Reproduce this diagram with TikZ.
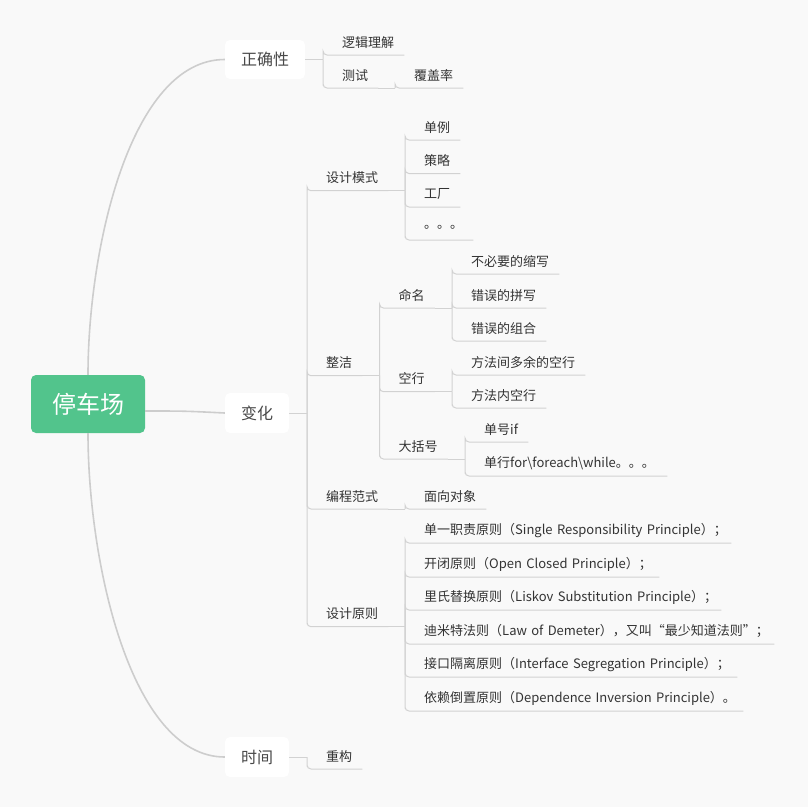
\documentclass[tikz,border=0pt]{standalone}
\usepackage{fontspec}
\setmainfont{Noto Sans CJK SC}
\usetikzlibrary{calc}
\definecolor{bg}{RGB}{249,249,249}
\definecolor{lnc}{RGB}{210,210,210}
\definecolor{crv}{RGB}{205,205,205}
\definecolor{rootg}{RGB}{82,196,140}
\definecolor{txt}{RGB}{51,51,51}
\definecolor{mtxt}{RGB}{72,72,72}
\newcommand{\itm}[5]{\node[item, text width=#4pt] (#1) at (#2,#3) {\hspace*{19pt}#5};}
\newcommand{\edg}[2]{\draw[sub] (#1) |- (#2.south west) -- (#2.south east);}
\begin{document}
\begin{tikzpicture}[x=1pt,y=-1pt,
  item/.style={anchor=south west, inner sep=0pt, minimum height=25pt, align=left,
    font=\fontsize{13}{15}\selectfont, text=txt},
  mainbox/.style={fill=white, rounded corners=5pt, inner sep=0pt,
    font=\fontsize{16}{19}\selectfont, text=mtxt},
  rootbox/.style={fill=rootg, rounded corners=5pt, inner sep=0pt,
    font=\fontsize{24}{28}\selectfont, text=white},
  sub/.style={draw=lnc, line width=1pt, rounded corners=4pt},
  crvline/.style={draw=crv, line width=1.6pt}]

\fill[bg] (0,0) rectangle (808,807);
\useasboundingbox (0,0) rectangle (808,807);

% root and main nodes
\node[rootbox, minimum width=114pt, minimum height=58pt] (root) at (88,404) {停车场};
\node[mainbox, minimum width=80pt, minimum height=39pt] (zqx) at (265,59.5) {正确性};
\node[mainbox, minimum width=64pt, minimum height=40pt] (bh) at (257,413) {变化};
\node[mainbox, minimum width=64pt, minimum height=40pt] (sj) at (257,757) {时间};

\draw[crvline] (root.north) .. controls (88,250) and (130,59.5) .. (zqx.west);
\draw[crvline] (root.south) .. controls (88,560) and (130,757) .. (sj.west);
\draw[crvline] ($(root.east)+(0,7)$) .. controls (185,411) .. (bh.west);

% junction points
\coordinate (jzqx) at (323,59.5);
\coordinate (jbh) at (307,413);
\coordinate (jsj) at (307,757);
\coordinate (jcs) at (395,88);
\coordinate (jsjms) at (405,190.7);
\coordinate (jzj) at (379.5,375.7);
\coordinate (jmm) at (452,308);
\coordinate (jkh) at (452,391.7);
\coordinate (jdkh) at (465,459);
\coordinate (jbcfs) at (405,509);
\coordinate (jsjyz) at (405,626.7);

% 正确性
\itm{ljlj}{323}{55}{81}{逻辑理解}
\itm{cs}{323}{88}{55}{测试}
\itm{fgl}{395}{88}{68}{覆盖率}
\draw[sub] (zqx.east) -- (jzqx);
\edg{jzqx}{ljlj}
\edg{jzqx}{cs}
\draw[sub] (cs.south east) -- (jcs);
\edg{jcs}{fgl}

% 变化
\itm{sjms}{307}{190.7}{81}{设计模式}
\itm{zj}{307}{375.7}{55}{整洁}
\itm{bcfs}{307}{509}{81}{编程范式}
\itm{sjyz}{307}{626.7}{81}{设计原则}
\draw[sub] (bh.east) -- (jbh);
\edg{jbh}{sjms}
\edg{jbh}{zj}
\edg{jbh}{bcfs}
\edg{jbh}{sjyz}

% 设计模式
\itm{dl}{405}{140}{55}{单例}
\itm{cl}{405}{173.5}{55}{策略}
\itm{gc}{405}{207}{55}{工厂}
\itm{dd}{405}{240}{68}{。。。}
\draw[sub] (sjms.south east) -- (jsjms);
\edg{jsjms}{dl}
\edg{jsjms}{cl}
\edg{jsjms}{gc}
\edg{jsjms}{dd}

% 整洁
\itm{mm}{379.5}{308}{55}{命名}
\itm{kh}{379.5}{391.7}{55}{空行}
\itm{dkh}{379.5}{459}{68}{大括号}
\draw[sub] (zj.south east) -- (jzj);
\edg{jzj}{mm}
\edg{jzj}{kh}
\edg{jzj}{dkh}

\itm{na}{452}{274}{107}{不必要的缩写}
\itm{nb}{452}{308}{94}{错误的拼写}
\itm{nc}{452}{341}{94}{错误的组合}
\draw[sub] (mm.south east) -- (jmm);
\edg{jmm}{na}
\edg{jmm}{nb}
\edg{jmm}{nc}

\itm{ka}{452}{375}{133}{方法间多余的空行}
\itm{kb}{452}{408}{94}{方法内空行}
\draw[sub] (kh.south east) -- (jkh);
\edg{jkh}{ka}
\edg{jkh}{kb}

\itm{da}{465}{442}{63}{单号if}
\itm{db}{465}{476}{202}{单行for\textbackslash foreach\textbackslash while。。。}
\draw[sub] (dkh.south east) -- (jdkh);
\edg{jdkh}{da}
\edg{jdkh}{db}

% 编程范式
\itm{mx}{405}{509}{81}{面向对象}
\draw[sub] (bcfs.south east) -- (jbcfs);
\edg{jbcfs}{mx}

% 设计原则
\itm{pa}{405}{543}{326}{单一职责原则（Single Responsibility Principle）；}
\itm{pb}{405}{577}{254}{开闭原则（Open Closed Principle）；}
\itm{pc}{405}{610}{316}{里氏替换原则（Liskov Substitution Principle）；}
\itm{pd}{405}{644}{369}{迪米特法则（Law of Demeter），又叫“最少知道法则”；}
\itm{pe}{405}{677}{332}{接口隔离原则（Interface Segregation Principle）；}
\itm{pf}{405}{711}{338}{依赖倒置原则（Dependence Inversion Principle）。}
\draw[sub] (sjyz.south east) -- (jsjyz);
\edg{jsjyz}{pa}
\edg{jsjyz}{pb}
\edg{jsjyz}{pc}
\edg{jsjyz}{pd}
\edg{jsjyz}{pe}
\edg{jsjyz}{pf}

% 时间
\itm{cg}{307}{769}{55}{重构}
\draw[sub] (sj.east) -- (jsj);
\edg{jsj}{cg}
\end{tikzpicture}
\end{document}
